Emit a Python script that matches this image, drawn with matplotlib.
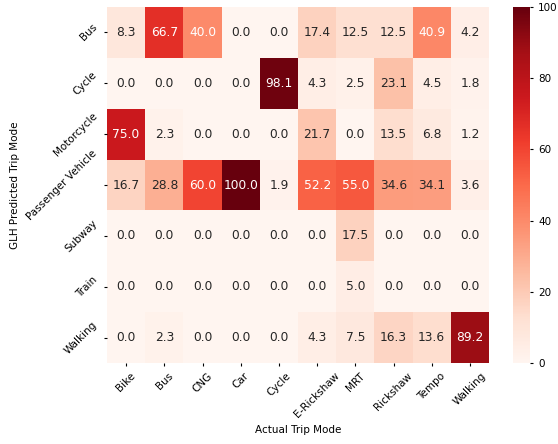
import numpy as np
import matplotlib
matplotlib.use("Agg")
import matplotlib.pyplot as plt
import seaborn as sns

actual_modes = ["Bike", "Bus", "CNG", "Car", "Cycle", "E-Rickshaw", "MRT",
                "Rickshaw", "Tempo", "Walking"]
predicted_modes = ["Bus", "Cycle", "Motorcycle", "Passenger Vehicle",
                   "Subway", "Train", "Walking"]

# percentage of each actual mode assigned to each predicted mode
bus_row = [8.3, 66.7, 40.0, 0.0, 0.0, 17.4, 12.5, 12.5, 40.9, 4.2]
cycle_row = [0.0, 0.0, 0.0, 0.0, 98.1, 4.3, 2.5, 23.1, 4.5, 1.8]
motorcycle_row = [75.0, 2.3, 0.0, 0.0, 0.0, 21.7, 0.0, 13.5, 6.8, 1.2]
passenger_row = [16.7, 28.8, 60.0, 100.0, 1.9, 52.2, 55.0, 34.6, 34.1, 3.6]
subway_row = [0.0, 0.0, 0.0, 0.0, 0.0, 0.0, 17.5, 0.0, 0.0, 0.0]
train_row = [0.0, 0.0, 0.0, 0.0, 0.0, 0.0, 5.0, 0.0, 0.0, 0.0]
walking_row = [0.0, 2.3, 0.0, 0.0, 0.0, 4.3, 7.5, 16.3, 13.6, 89.2]

matrix = np.array([bus_row, cycle_row, motorcycle_row, passenger_row,
                   subway_row, train_row, walking_row])

plt.rcParams["font.size"] = 7.5
plt.rcParams["xtick.major.size"] = 2.2
plt.rcParams["ytick.major.size"] = 2.2

fig = plt.figure(figsize=(5.58, 4.44), dpi=100)
ax = fig.add_axes([0.1918, 0.1824, 0.6846, 0.8018])
cax = fig.add_axes([0.9194, 0.1824, 0.0305, 0.8018])

sns.heatmap(matrix, annot=True, fmt=".1f", cmap="Reds", vmin=0, vmax=100,
            xticklabels=actual_modes, yticklabels=predicted_modes,
            ax=ax, cbar_ax=cax, annot_kws={"fontsize": 8.8})

ax.set_xlabel("Actual Trip Mode", fontsize=7.5)
ax.set_ylabel("GLH Predicted Trip Mode", fontsize=7.5)
plt.setp(ax.get_xticklabels(), rotation=45, fontsize=7.5)
plt.setp(ax.get_yticklabels(), rotation=45, fontsize=7.5)
cax.set_yticks([0, 20, 40, 60, 80, 100])
cax.tick_params(labelsize=7.5)

fig.savefig("out.png", dpi=100)
